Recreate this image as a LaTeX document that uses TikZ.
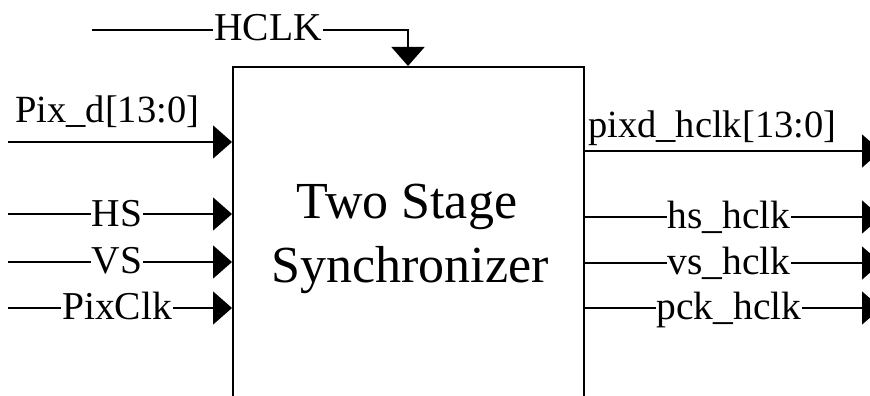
\documentclass[tikz,border=0pt]{standalone}
\usepackage{fontspec}
\setmainfont{Liberation Serif}
\usetikzlibrary{arrows.meta}
\begin{document}
\begin{tikzpicture}[x=1pt,y=-1pt,
  wire/.style={line width=1.6pt,-{Triangle[length=19pt,width=33pt]}},
  lbl/.style={fill=white,inner xsep=1pt,inner ysep=0pt,anchor=base,font=\fontsize{39.5}{46}\selectfont},
  toplbl/.style={inner sep=0pt,anchor=base west,font=\fontsize{38.5}{46}\selectfont},
  big/.style={inner sep=0pt,anchor=base,font=\fontsize{52}{60}\selectfont}]
\useasboundingbox (0,0) rectangle (870,396);
\clip (0,0) rectangle (870,396);
\node[draw,line width=1.6pt,minimum width=351pt,minimum height=360pt,inner sep=0pt,anchor=north west] (sync) at (232,66) {};
\node[big] (t1) at (407,218) {Two Stage};
\node[big] (t2) at (410,282) {Synchronizer};
% coordinates
\coordinate (hclkS) at (92,30);
\coordinate (hclkC) at (408,30);
\coordinate (hclkE) at (408,66);
\coordinate (pixS) at (8,142);
\coordinate (pixE) at (232,142);
\coordinate (hsS) at (8,214);
\coordinate (hsE) at (232,214);
\coordinate (vsS) at (8,262);
\coordinate (vsE) at (232,262);
\coordinate (pcS) at (8,308);
\coordinate (pcE) at (232,308);
\coordinate (poS) at (583,151);
\coordinate (poE) at (881,151);
\coordinate (hoS) at (583,217);
\coordinate (hoE) at (881,217);
\coordinate (voS) at (583,263);
\coordinate (voE) at (881,263);
\coordinate (coS) at (583,308);
\coordinate (coE) at (881,308);
% wires
\draw[wire] (hclkS) -- (hclkC) -- (hclkE);
\draw[wire] (pixS) -- (pixE);
\draw[wire] (hsS) -- (hsE);
\draw[wire] (vsS) -- (vsE);
\draw[wire] (pcS) -- (pcE);
\draw[wire] (poS) -- (poE);
\draw[wire] (hoS) -- (hoE);
\draw[wire] (voS) -- (voE);
\draw[wire] (coS) -- (coE);
% labels
\node[lbl] (lhclk) at (268,41) {HCLK};
\node[toplbl] (lpix) at (15,122) {Pix\_d[13:0]};
\node[lbl] (lhs) at (117,226) {HS};
\node[lbl] (lvs) at (117,273) {VS};
\node[lbl] (lpc) at (117,319) {PixClk};
\node[toplbl] (lpo) at (588,137) {pixd\_hclk[13:0]};
\node[lbl] (lho) at (729,228) {hs\_hclk};
\node[lbl] (lvo) at (729,274) {vs\_hclk};
\node[lbl] (lco) at (729,319) {pck\_hclk};
\end{tikzpicture}
\end{document}
